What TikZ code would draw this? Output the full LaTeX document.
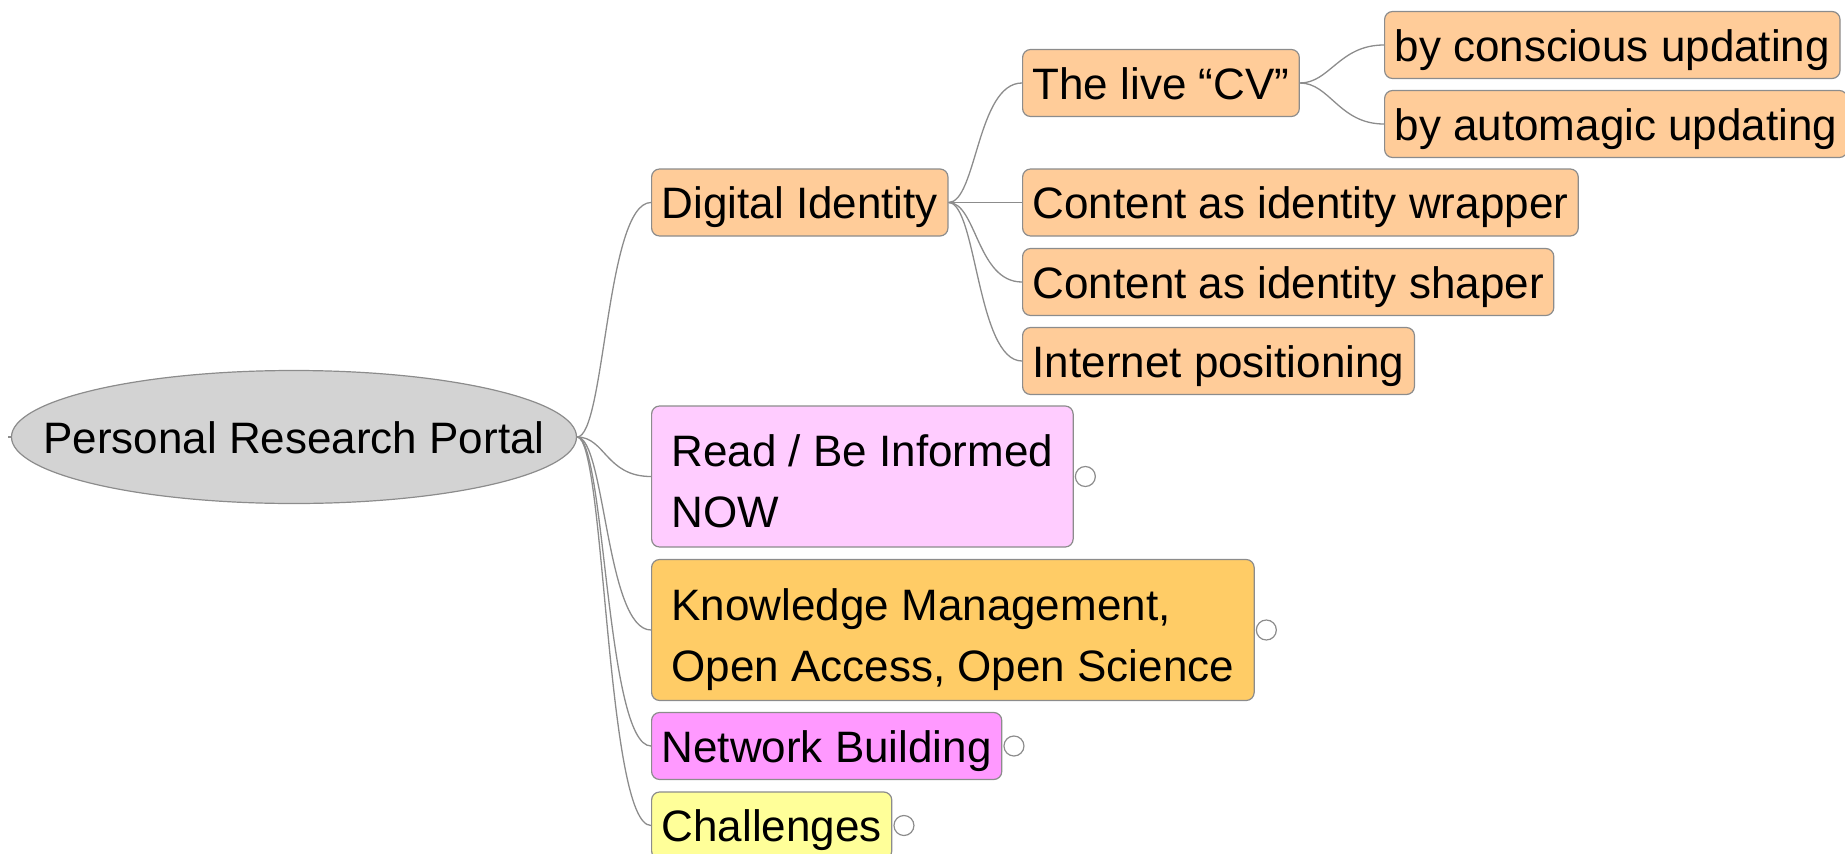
\documentclass[tikz,border=0pt]{standalone}
\usepackage{fontspec}
\setmainfont{Liberation Sans}
\usetikzlibrary{shapes.geometric}
\definecolor{boxgray}{HTML}{8C8C8C}
\definecolor{edgegray}{HTML}{8C8C8C}
\definecolor{rootgray}{HTML}{D3D3D3}
\definecolor{peach}{HTML}{FFCC99}
\definecolor{lightpink}{HTML}{FFCCFF}
\definecolor{kmorange}{HTML}{FFCC66}
\definecolor{netmagenta}{HTML}{FF99FF}
\definecolor{chyellow}{HTML}{FFFF99}
\newcommand{\mystrut}{\rule[-4.6bp]{0pt}{25.2bp}}
\newcommand{\mytallstrut}{\rule[-4.6bp]{0pt}{29.9bp}}
\begin{document}
\begin{tikzpicture}[x=0.5bp,y=-0.5bp,
 every node/.style={font=\fontsize{22bp}{30.5bp}\selectfont, text=black},
 box/.style={draw=boxgray, line width=0.6bp, rounded corners=4bp, anchor=west, inner xsep=5bp, inner ysep=0pt, minimum height=33.5bp,
   execute at begin node=\mystrut, execute at end node=\mystrut},
 mbox/.style={draw=boxgray, line width=0.6bp, rounded corners=4bp, anchor=west, inner xsep=10bp, inner ysep=0pt, align=left, minimum height=70.5bp},
 edge/.style={draw=edgegray, line width=0.65bp},
 fold/.style={circle, draw=edgegray, fill=white, line width=0.6bp, minimum size=10bp, inner sep=0pt, anchor=west}]
\useasboundingbox (0,0) rectangle (1845,854);
% nodes
\node[ellipse, draw=boxgray, line width=0.6bp, fill=rootgray, minimum width=282.5bp, minimum height=66.5bp, inner sep=0pt] (root) at (294,437) {};
\node (roottext) at (root.center) {\mystrut Personal Research Portal};
\node[box, fill=peach] (di) at (651,202.5) {Digital Identity};
\node[box, fill=peach] (cv) at (1022,83) {The live “CV”};
\node[box, fill=peach] (cu) at (1384,45) {by conscious updating};
\node[box, fill=peach] (au) at (1384,124) {by automagic updating};
\node[box, fill=peach] (wr) at (1022,202.5) {Content as identity wrapper};
\node[box, fill=peach] (sh) at (1022,282) {Content as identity shaper};
\node[box, fill=peach] (ip) at (1022,361) {Internet positioning};
\node[mbox, fill=lightpink] (rd) at (651,476.5) {\mytallstrut Read / Be Informed\\NOW\mystrut};
\node[mbox, fill=kmorange] (km) at (651,630) {\mytallstrut Knowledge Management,\\Open Access, Open Science\mystrut};
\node[box, fill=netmagenta] (nb) at (651,746) {Network Building};
\node[box, fill=chyellow] (ch) at (651,825.5) {Challenges};
% fold markers
\node[fold] (rdf) at ([xshift=0.5bp]rd.east) {};
\node[fold] (kmf) at ([xshift=0.5bp]km.east) {};
\node[fold] (nbf) at ([xshift=0.5bp]nb.east) {};
\node[fold] (chf) at ([xshift=0.5bp]ch.east) {};
% small stub at the left of the root
\coordinate (stub) at ([xshift=-1.5bp]root.west);
\draw[edge] (root.west) -- (stub);
% edges
\draw[edge] (root.east) .. controls +(28,0) and +(-45,0) .. (di.west);
\draw[edge] (root.east) .. controls +(28,0) and +(-45,0) .. (rd.west);
\draw[edge] (root.east) .. controls +(28,0) and +(-45,0) .. (km.west);
\draw[edge] (root.east) .. controls +(28,0) and +(-45,0) .. (nb.west);
\draw[edge] (root.east) .. controls +(28,0) and +(-45,0) .. (ch.west);
\draw[edge] (di.east) .. controls +(28,0) and +(-45,0) .. (cv.west);
\draw[edge] (di.east) -- (wr.west);
\draw[edge] (di.east) .. controls +(28,0) and +(-45,0) .. (sh.west);
\draw[edge] (di.east) .. controls +(28,0) and +(-45,0) .. (ip.west);
\draw[edge] (cv.east) .. controls +(30,0) and +(-45,0) .. (cu.west);
\draw[edge] (cv.east) .. controls +(30,0) and +(-45,0) .. (au.west);
\end{tikzpicture}
\end{document}
